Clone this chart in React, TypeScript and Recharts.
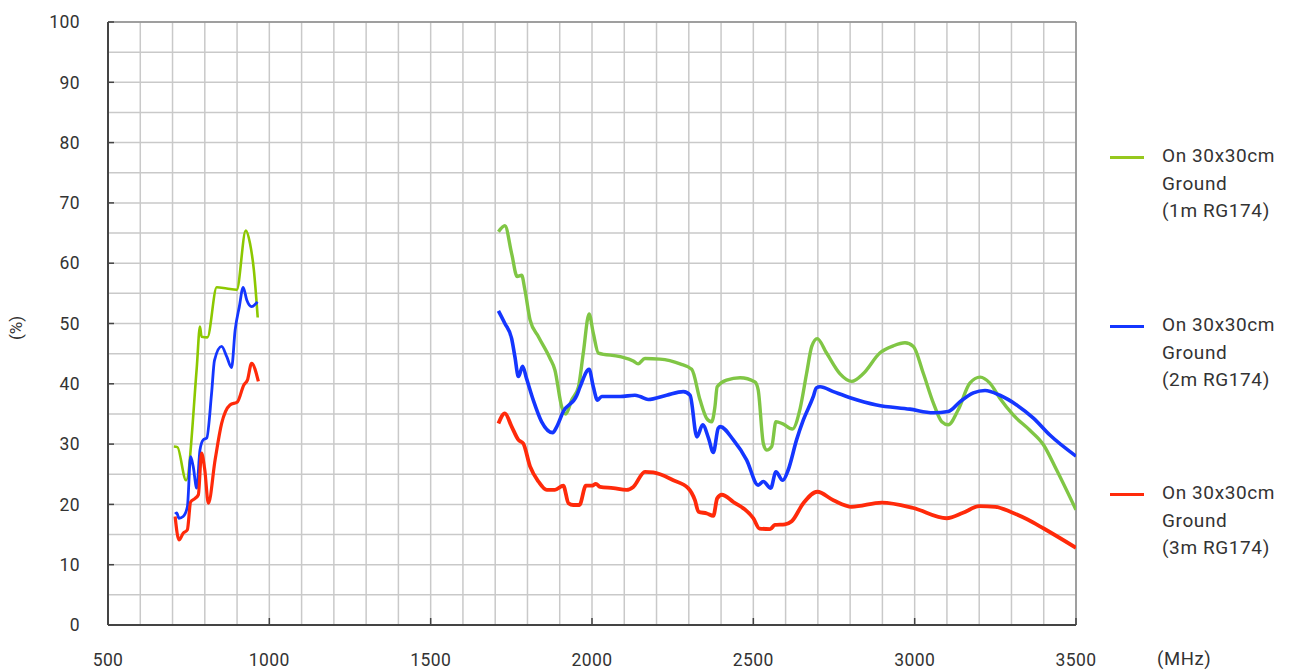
import React from "react";
import { LineChart, Line, XAxis, YAxis, CartesianGrid, ReferenceLine } from "recharts";

// frequency (MHz) / efficiency (%)
const green1mLow = [
  { f: 704, v: 29.6 }, { f: 715, v: 29.5 }, { f: 742, v: 24.0 }, { f: 775, v: 42.6 },
  { f: 785, v: 49.5 }, { f: 790, v: 47.8 }, { f: 808, v: 47.7 }, { f: 837, v: 56.0 },
  { f: 868, v: 55.8 }, { f: 899, v: 55.6 }, { f: 927, v: 65.4 }, { f: 940, v: 63.3 },
  { f: 952, v: 58.9 }, { f: 964, v: 51.0 },
];
const green1mHigh = [
  { f: 1710, v: 65.2 }, { f: 1730, v: 66.2 }, { f: 1751, v: 61.6 }, { f: 1768, v: 57.8 },
  { f: 1782, v: 58.0 }, { f: 1792, v: 55.6 }, { f: 1808, v: 50.6 }, { f: 1834, v: 47.8 },
  { f: 1870, v: 44.2 }, { f: 1885, v: 42.3 }, { f: 1906, v: 36.2 }, { f: 1919, v: 35.0 },
  { f: 1937, v: 37.3 }, { f: 1958, v: 39.5 }, { f: 1973, v: 45.1 }, { f: 1991, v: 51.6 },
  { f: 2004, v: 48.4 }, { f: 2020, v: 45.1 }, { f: 2087, v: 44.5 }, { f: 2128, v: 43.8 },
  { f: 2143, v: 43.3 }, { f: 2164, v: 44.2 }, { f: 2211, v: 44.1 }, { f: 2273, v: 43.3 },
  { f: 2309, v: 42.4 }, { f: 2335, v: 37.3 }, { f: 2355, v: 34.3 }, { f: 2371, v: 33.7 },
  { f: 2381, v: 36.2 }, { f: 2388, v: 39.5 }, { f: 2417, v: 40.6 }, { f: 2459, v: 41.0 },
  { f: 2505, v: 40.3 }, { f: 2515, v: 39.0 }, { f: 2531, v: 30.1 }, { f: 2541, v: 29.0 },
  { f: 2557, v: 29.6 }, { f: 2570, v: 33.7 }, { f: 2590, v: 33.4 }, { f: 2621, v: 32.5 },
  { f: 2645, v: 35.9 }, { f: 2665, v: 41.7 }, { f: 2681, v: 46.2 }, { f: 2698, v: 47.5 },
  { f: 2727, v: 45.1 }, { f: 2768, v: 41.7 }, { f: 2805, v: 40.4 }, { f: 2841, v: 41.7 },
  { f: 2892, v: 45.1 }, { f: 2934, v: 46.3 }, { f: 2970, v: 46.8 }, { f: 2996, v: 46.2 },
  { f: 3027, v: 41.7 }, { f: 3058, v: 36.8 }, { f: 3084, v: 33.7 }, { f: 3104, v: 33.2 },
  { f: 3135, v: 35.7 }, { f: 3171, v: 40.1 }, { f: 3203, v: 41.1 }, { f: 3233, v: 40.1 },
  { f: 3264, v: 37.6 }, { f: 3306, v: 34.8 }, { f: 3357, v: 32.3 }, { f: 3399, v: 29.9 },
  { f: 3440, v: 25.7 }, { f: 3500, v: 19.1 },
];
const blue2mLow = [
  { f: 708, v: 18.4 }, { f: 713, v: 18.6 }, { f: 720, v: 17.7 }, { f: 733, v: 18.0 },
  { f: 746, v: 19.6 }, { f: 756, v: 27.9 }, { f: 764, v: 26.3 }, { f: 775, v: 22.7 },
  { f: 785, v: 29.0 }, { f: 795, v: 30.7 }, { f: 806, v: 31.0 }, { f: 821, v: 38.4 },
  { f: 830, v: 43.9 }, { f: 852, v: 46.2 }, { f: 868, v: 44.5 }, { f: 883, v: 42.7 },
  { f: 894, v: 48.9 }, { f: 907, v: 52.8 }, { f: 919, v: 56.0 }, { f: 930, v: 53.9 },
  { f: 945, v: 52.8 }, { f: 963, v: 53.6 },
];
const blue2mHigh = [
  { f: 1710, v: 52.1 }, { f: 1730, v: 50.0 }, { f: 1751, v: 47.5 }, { f: 1761, v: 44.5 },
  { f: 1772, v: 41.2 }, { f: 1785, v: 42.9 }, { f: 1797, v: 40.9 }, { f: 1818, v: 37.3 },
  { f: 1844, v: 33.7 }, { f: 1878, v: 31.9 }, { f: 1891, v: 32.9 }, { f: 1911, v: 35.4 },
  { f: 1953, v: 38.1 }, { f: 1963, v: 39.5 }, { f: 1991, v: 42.4 }, { f: 2004, v: 39.5 },
  { f: 2017, v: 37.3 }, { f: 2030, v: 37.9 }, { f: 2087, v: 37.9 }, { f: 2133, v: 38.1 },
  { f: 2149, v: 37.9 }, { f: 2174, v: 37.4 }, { f: 2231, v: 38.1 }, { f: 2283, v: 38.7 },
  { f: 2304, v: 38.1 }, { f: 2325, v: 31.2 }, { f: 2343, v: 33.2 }, { f: 2361, v: 31.0 },
  { f: 2376, v: 28.6 }, { f: 2391, v: 32.6 }, { f: 2397, v: 32.9 }, { f: 2438, v: 30.7 },
  { f: 2479, v: 27.4 }, { f: 2515, v: 23.2 }, { f: 2531, v: 23.8 }, { f: 2554, v: 22.7 },
  { f: 2570, v: 25.4 }, { f: 2591, v: 24.0 }, { f: 2608, v: 25.7 }, { f: 2634, v: 30.7 },
  { f: 2655, v: 34.0 }, { f: 2686, v: 37.9 }, { f: 2695, v: 39.3 }, { f: 2707, v: 39.5 },
  { f: 2748, v: 38.7 }, { f: 2800, v: 37.7 }, { f: 2882, v: 36.5 }, { f: 2985, v: 35.8 },
  { f: 3058, v: 35.2 }, { f: 3104, v: 35.4 }, { f: 3140, v: 37.0 }, { f: 3182, v: 38.5 },
  { f: 3218, v: 38.9 }, { f: 3264, v: 38.1 }, { f: 3316, v: 36.5 }, { f: 3368, v: 34.3 },
  { f: 3419, v: 31.5 }, { f: 3500, v: 28.0 },
];
const red3mLow = [
  { f: 708, v: 18.0 }, { f: 720, v: 14.1 }, { f: 733, v: 15.2 }, { f: 746, v: 15.8 },
  { f: 756, v: 20.4 }, { f: 770, v: 21.0 }, { f: 780, v: 21.6 }, { f: 790, v: 28.5 },
  { f: 800, v: 25.7 }, { f: 811, v: 20.2 }, { f: 832, v: 27.4 }, { f: 852, v: 33.4 },
  { f: 878, v: 36.5 }, { f: 901, v: 37.0 }, { f: 921, v: 39.8 }, { f: 932, v: 40.6 },
  { f: 945, v: 43.4 }, { f: 966, v: 40.4 },
];
const red3mHigh = [
  { f: 1710, v: 33.4 }, { f: 1730, v: 35.1 }, { f: 1751, v: 32.9 }, { f: 1772, v: 30.7 },
  { f: 1787, v: 30.1 }, { f: 1808, v: 26.3 }, { f: 1834, v: 23.8 }, { f: 1860, v: 22.4 },
  { f: 1885, v: 22.4 }, { f: 1911, v: 23.1 }, { f: 1927, v: 20.2 }, { f: 1942, v: 19.9 },
  { f: 1961, v: 19.9 }, { f: 1981, v: 23.1 }, { f: 1999, v: 23.1 }, { f: 2012, v: 23.4 },
  { f: 2025, v: 22.9 }, { f: 2066, v: 22.7 }, { f: 2107, v: 22.4 }, { f: 2128, v: 22.9 },
  { f: 2164, v: 25.4 }, { f: 2190, v: 25.3 }, { f: 2252, v: 24.0 }, { f: 2298, v: 22.7 },
  { f: 2319, v: 20.7 }, { f: 2330, v: 18.8 }, { f: 2356, v: 18.5 }, { f: 2376, v: 18.1 },
  { f: 2388, v: 21.0 }, { f: 2402, v: 21.6 }, { f: 2438, v: 20.4 }, { f: 2500, v: 17.7 },
  { f: 2519, v: 16.0 }, { f: 2552, v: 15.9 }, { f: 2567, v: 16.6 }, { f: 2598, v: 16.7 },
  { f: 2619, v: 17.2 }, { f: 2655, v: 20.2 }, { f: 2698, v: 22.1 }, { f: 2748, v: 20.7 },
  { f: 2805, v: 19.6 }, { f: 2898, v: 20.3 }, { f: 2996, v: 19.4 }, { f: 3099, v: 17.7 },
  { f: 3150, v: 18.6 }, { f: 3200, v: 19.7 }, { f: 3250, v: 19.6 }, { f: 3300, v: 18.7 },
  { f: 3350, v: 17.5 }, { f: 3400, v: 16.0 }, { f: 3500, v: 12.8 },
];

const xTicks = [500, 1000, 1500, 2000, 2500, 3000, 3500];
const yTicks = [0, 10, 20, 30, 40, 50, 60, 70, 80, 90, 100];
const xMinorGrid = [600, 700, 800, 900, 1100, 1200, 1300, 1400, 1600, 1700, 1800, 1900, 2100, 2200, 2300, 2400, 2600, 2700, 2800, 2900, 3100, 3200, 3300, 3400];
const yMinorGrid = [5, 15, 25, 35, 45, 55, 65, 75, 85, 95];

const legendItems = [
  { color: "#96c81e", lines: ["On 30x30cm", "Ground", "(1m RG174)"], top: 145 },
  { color: "#1436ff", lines: ["On 30x30cm", "Ground", "(2m RG174)"], top: 314 },
  { color: "#ff2a0a", lines: ["On 30x30cm", "Ground", "(3m RG174)"], top: 482 },
];

const font = "Roboto, 'DejaVu Sans', sans-serif";
const tickStyle = { fill: "#333", fontSize: 17.5, fontFamily: font, letterSpacing: 0.4 };
const gridColor = "#c9c9c9";

export default function App() {
  return (
    <div style={{ position: "absolute", left: 0, top: 0, width: 1294, height: 671, background: "#fff", fontFamily: font }}>
      <LineChart width={1294} height={671} margin={{ top: 22, right: 218, bottom: 0, left: 0 }}>
        <CartesianGrid stroke={gridColor} strokeWidth={1.5} />
        {xMinorGrid.map((x) => (
          <ReferenceLine key={"x" + x} x={x} stroke={gridColor} strokeWidth={1.5} />
        ))}
        {yMinorGrid.map((y) => (
          <ReferenceLine key={"y" + y} y={y} stroke={gridColor} strokeWidth={1.5} />
        ))}
        <ReferenceLine y={100} stroke="#8c8c8c" strokeWidth={1.5} />
        <ReferenceLine x={3500} stroke="#8c8c8c" strokeWidth={1.5} />
        <XAxis
          type="number"
          dataKey="f"
          domain={[500, 3500]}
          ticks={xTicks}
          allowDataOverflow
          height={46}
          axisLine={{ stroke: "#444", strokeWidth: 2 }}
          tickLine={{ stroke: "#444", strokeWidth: 1.5 }}
          tickSize={-7}
          tickMargin={36}
          tick={tickStyle}
        />
        <YAxis
          type="number"
          domain={[0, 100]}
          ticks={yTicks}
          allowDataOverflow
          width={108}
          axisLine={{ stroke: "#444", strokeWidth: 2 }}
          tickLine={{ stroke: "#444", strokeWidth: 1.5 }}
          tickSize={-6}
          tickMargin={34}
          tick={tickStyle}
        />
        <Line data={green1mLow} dataKey="v" type="monotone" stroke="#8cc800" strokeWidth={2.6} dot={false} isAnimationActive={false} />
        <Line data={blue2mLow} dataKey="v" type="monotone" stroke="#1436ff" strokeWidth={2.8} dot={false} isAnimationActive={false} />
        <Line data={red3mLow} dataKey="v" type="monotone" stroke="#ff2a0a" strokeWidth={3.2} dot={false} isAnimationActive={false} />
        <Line data={green1mHigh} dataKey="v" type="monotone" stroke="#80c645" strokeWidth={3.4} dot={false} isAnimationActive={false} />
        <Line data={blue2mHigh} dataKey="v" type="monotone" stroke="#1436ff" strokeWidth={3.6} dot={false} isAnimationActive={false} />
        <Line data={red3mHigh} dataKey="v" type="monotone" stroke="#ff2a0a" strokeWidth={3.8} dot={false} isAnimationActive={false} />
      </LineChart>

      <div style={{ position: "absolute", left: 4, top: 318, transform: "rotate(-90deg)", fontSize: 17, color: "#333" }}>(%)</div>
      <div style={{ position: "absolute", left: 1157, top: 648, fontSize: 18.5, letterSpacing: 0.6, color: "#333" }}>(MHz)</div>

      {legendItems.map((item) => (
        <div key={item.top} style={{ position: "absolute", left: 1110, top: item.top, display: "flex" }}>
          <div style={{ width: 34, height: 3, background: item.color, marginTop: 11, marginRight: 18 }} />
          <div style={{ fontSize: 19, letterSpacing: 0.6, lineHeight: "27.5px", color: "#333", marginTop: -3, whiteSpace: "nowrap" }}>
            {item.lines.map((l) => (
              <div key={l}>{l}</div>
            ))}
          </div>
        </div>
      ))}
    </div>
  );
}
